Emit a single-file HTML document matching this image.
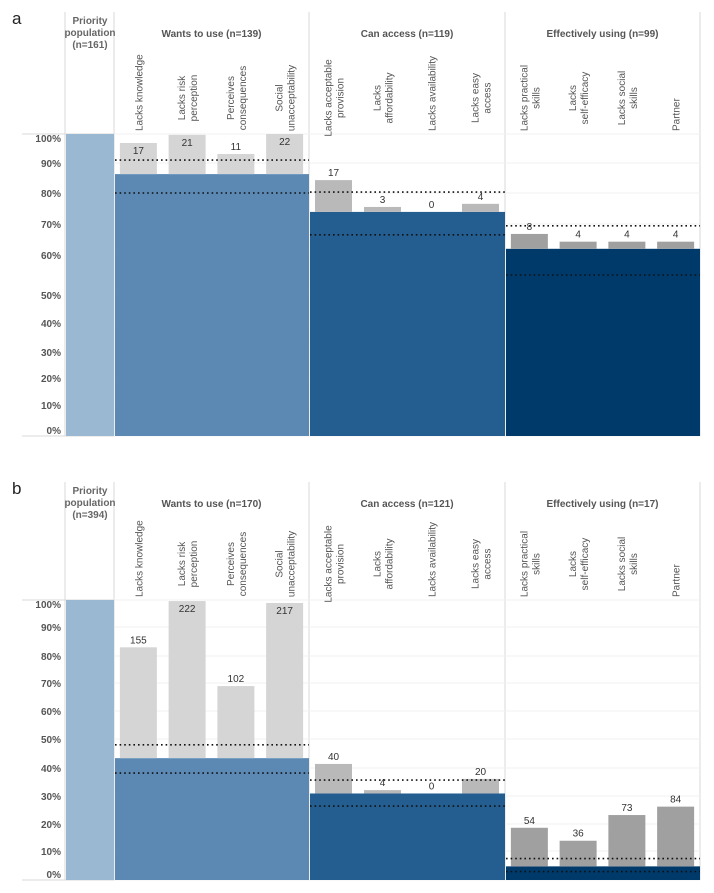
<!DOCTYPE html>
<html><head><meta charset="utf-8"><style>
body{margin:0;background:#fff;}
svg{display:block;font-family:"Liberation Sans",Arial,sans-serif;}
</style></head><body>
<svg id="chart" width="714" height="893"></svg>
<script>
const groups=["Wants to use","Can access","Effectively using"];
const subLabels=[
 [["Lacks knowledge"],["Lacks risk","perception"],["Perceives","consequences"],["Social","unacceptability"]],
 [["Lacks acceptable","provision"],["Lacks","affordability"],["Lacks availability"],["Lacks easy","access"]],
 [["Lacks practical","skills"],["Lacks","self-efficacy"],["Lacks social","skills"],["Partner"]]
];
const tickLabels=["100%","90%","80%","70%","60%","50%","40%","30%","20%","10%","0%"];
const tickValues=[100,90,80,70,60,50,40,30,20,10,0];
// panel a
const aPriorityN=161;
const aGroupN=[139,119,99];
const aBlock=[86.3,73.9,62];
const aBars=[[96.9,99.7,93.1,100],[84.3,75.5,73.9,76.5],[66.8,64.3,64.3,64.3]];
const aCounts=[[17,21,11,22],[17,3,0,4],[8,4,4,4]];
const aDotHi=[91,80.3,69.4];
const aDotLo=[80,66.5,55];
// panel b
const bPriorityN=394;
const bGroupN=[170,121,17];
const bBlock=[43.4,30.9,4.7];
const bBars=[[83,99.6,68.9,98.9],[41.4,32.1,36.1,36.1],[18.6,13.8,23.2,26.2]];
bBars[1][2]=30.9;
const bCounts=[[155,222,102,217],[40,4,0,20],[54,36,73,84]];
const bDotHi=[48,35.7,7.4];
const bDotLo=[38.2,26.4,2.9];

// non-uniform axis (scale calibration, pixel anchors per tick)
const aAnchors=[134,163,193,224,255,295,323,352,378,405,436];
const bAnchors=[600,627,656,683,711,739,768,796,824,851,880];
function makeScale(anch){
 return function(v){
  for(let i=0;i<tickValues.length-1;i++){
   const v0=tickValues[i],v1=tickValues[i+1];
   if(v<=v0&&v>=v1){return anch[i]+(anch[i+1]-anch[i])*(v0-v)/(v0-v1);}
  }
  return v>100?anch[0]:anch[anch.length-1];
 };
}
const NS="http://www.w3.org/2000/svg";
const svg=document.getElementById('chart');
function el(tag,attrs,parent,text){
 const e=document.createElementNS(NS,tag);
 for(const k in attrs)e.setAttribute(k,attrs[k]);
 if(text!==undefined)e.textContent=text;
 (parent||svg).appendChild(e);return e;
}
const colX=[65,114,309,505,700];
const blockColors=["#5b89b4","#245e90","#003a6b"];
const barColors=["#d5d5d5","#b9b9b9","#a0a0a0"];

function panel(letter,headTop,anch,priN,gN,block,bars,counts,hi,lo){
 const y=makeScale(anch);
 const g=el('g',{});
 
 
 const top=anch[0],bot=anch[anch.length-1];
 const t=el('text',{x:12,y:headTop+12,'font-size':17,fill:'#222'},g,letter);
 
 
 // header & frame lines
 colX.forEach(x=>{const l=el('line',{x1:x,x2:x,y1:headTop,y2:bot,stroke:'#d8d8d8','stroke-width':1},g);
  });
 el('line',{x1:22,x2:700,y1:top,y2:top,stroke:'#d8d8d8'},g);
 el('line',{x1:22,x2:700,y1:bot,y2:bot,stroke:'#d8d8d8'},g);
 // gridlines
 tickValues.forEach(v=>{const l=el('line',{x1:114,x2:700,y1:y(v),y2:y(v),stroke:'#f0f0f0'},g);
  });
 // ticks
 tickLabels.forEach((lab,i)=>{
  let ty=y(tickValues[i])+4; if(i===0)ty+=4; if(i===tickLabels.length-1)ty-=6;
  const tx=el('text',{x:61,y:ty,'font-size':10,'font-weight':'bold',fill:'#555','text-anchor':'end'},g,lab);
  
 });
 // priority
 const pr=el('rect',{x:66,y:y(100),width:48,height:bot-y(100),fill:'#9bb8d3'},g);
 
 ["Priority","population","(n="+priN+")"].forEach((s,i)=>{
  const tx=el('text',{x:90,y:headTop+12+i*12,'font-size':10,'font-weight':'bold',fill:'#666','text-anchor':'middle'},g,s);
  
 });
 for(let gi=0;gi<3;gi++){
  const x0=colX[gi+1],x1=colX[gi+2],w=(x1-x0)/4;
  const gt=el('text',{x:(x0+x1)/2,y:headTop+25,'font-size':10,'font-weight':'bold',fill:'#555','text-anchor':'middle'},g,groups[gi]+(gi==2?"  ":" ")+"(n="+gN[gi]+")");
  
  for(let s=0;s<4;s++){
   const cx=x0+w*(s+0.5);const lines=subLabels[gi][s];
   lines.forEach((ln,li)=>{
    const lx=cx+(lines.length==2?(li==0?-2:10):4);
    const tx=el('text',{x:lx,y:top-3,'font-size':10,fill:'#555','text-anchor':lines.length==2?'middle':'start',transform:'rotate(-90 '+lx+' '+(top-3)+')'},g,ln);
    if(lines.length==2){tx.setAttribute('transform','rotate(-90 '+lx+' '+(top-36)+')');tx.setAttribute('y',top-36);}
    
   });
  }
  const by=y(block[gi]);
  const blk=el('rect',{x:x0+1,y:by,width:x1-x0-1,height:bot-by,fill:blockColors[gi]},g);
  
  for(let s=0;s<4;s++){
   const bx=x0+w*s+(w-37)/2;const yt=y(bars[gi][s]);
   const r=el('rect',{x:bx,y:yt,width:37,height:Math.max(0,by-yt),fill:barColors[gi]},g);
   
   const lbl=el('text',{x:bx+18.5,y:Math.min(yt+(yt-top<12?11:-4),by-4),'font-size':10,fill:'#333','text-anchor':'middle'},g,String(counts[gi][s]));
   if(yt-top<12)lbl.setAttribute('y',yt+11);else lbl.setAttribute('y',yt-4);
   
  }
  [hi[gi],lo[gi]].forEach(v=>{
   const l=el('line',{x1:x0+1,x2:x1,y1:y(v),y2:y(v),stroke:'#111','stroke-width':1.6,'stroke-dasharray':'1.6 3'},g);
   
  });
 }
}
panel('a',12,aAnchors,aPriorityN,aGroupN,aBlock,aBars,aCounts,aDotHi,aDotLo);
panel('b',482,bAnchors,bPriorityN,bGroupN,bBlock,bBars,bCounts,bDotHi,bDotLo);
</script>
</body></html>
